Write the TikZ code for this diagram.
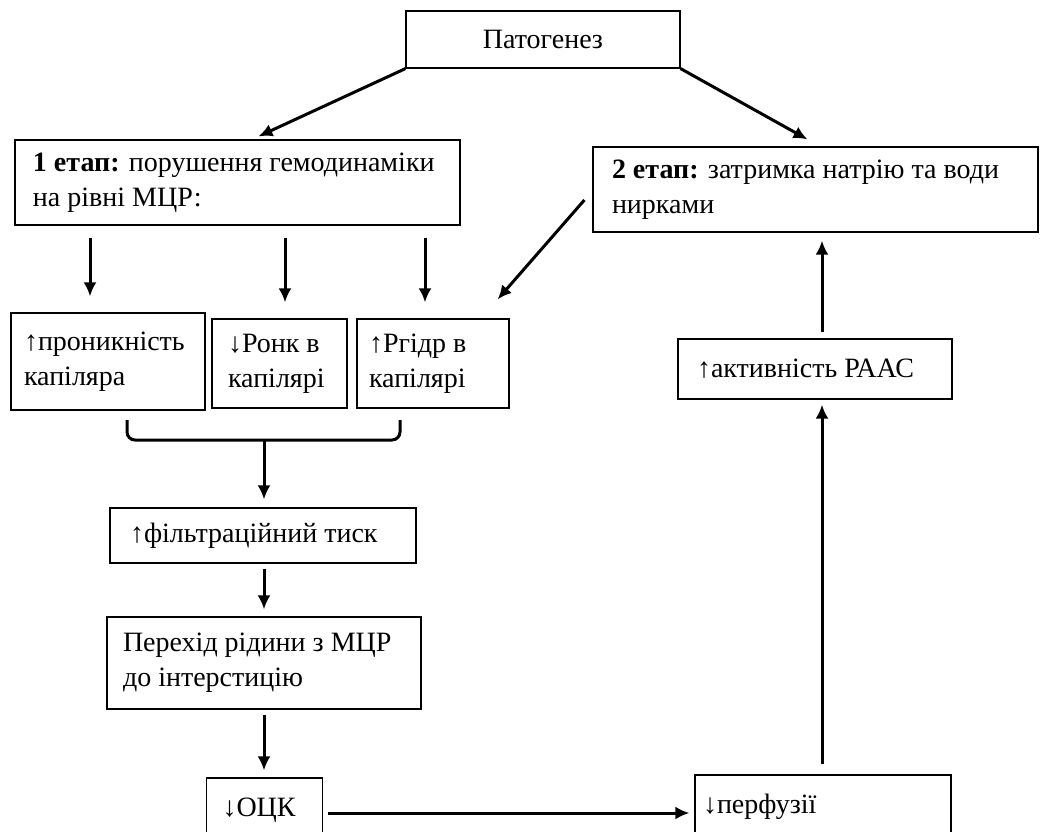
\documentclass[tikz,border=0pt]{standalone}
\usepackage{fontspec}
\setmainfont{Liberation Serif}
\usepackage{tikz}
\usetikzlibrary{arrows.meta,calc}
\definecolor{patInk}{HTML}{000000}
\tikzset{
  patBox/.style={
    draw=patInk,
    line width=0.6pt,
    align=flush left,
    font=\fontsize{14}{17.5}\selectfont,
    inner xsep=0pt,
    inner ysep=0pt,
    execute at begin node={\leftskip=8pt}
  },
  patTitle/.style={
    draw=patInk,
    line width=0.6pt,
    align=center,
    font=\fontsize{14}{17.5}\selectfont,
    inner sep=0pt
  },
  patArrow/.style={
    -{Latex[length=7pt,width=6.5pt]},
    line width=1.5pt,
    draw=patInk
  },
  patBrace/.style={
    line width=1.5pt,
    draw=patInk,
    rounded corners=4pt
  }
}

\begin{document}
\begin{tikzpicture}[x=0.5pt, y=-0.5pt]
  \clip (0,0) rectangle (1043,831);

  \node[patTitle, text width=137pt, minimum height=28.5pt] (patho) at (543,39.5) {Патогенез};
  \node[patBox, text width=222.5pt, minimum height=42.5pt, execute at begin node={\leftskip=9pt}] (stage1) at (237.5,182.5) {\textbf{1 етап:} порушення гемодинаміки\\на рівні МЦР:};
  \node[patBox, text width=222.5pt, minimum height=42.5pt, execute at begin node={\leftskip=9.5pt}] (stage2) at (815.5,189.5) {\textbf{2 етап:} затримка натрію та води\\нирками};

  \node[patBox, text width=97pt, minimum height=48.5pt, execute at begin node={\leftskip=6.5pt}] (perm) at (108,361.5) {↑проникність\\капіляра};
  \node[patBox, text width=67.5pt, minimum height=44.5pt] (onc) at (279.5,363.5) {↓Ронк в\\капілярі};
  \node[patBox, text width=76pt, minimum height=44.5pt, execute at begin node={\leftskip=6pt}] (hydr) at (433,363.5) {↑Ргідр в\\капілярі};
  \node[patBox, text width=137pt, minimum height=30pt, execute at begin node={\leftskip=9.5pt}] (raas) at (815,369) {↑активність РААС};

  \node[patBox, text width=153pt, minimum height=27.5pt, execute at begin node={\leftskip=10pt}] (filt) at (263,535.5) {↑фільтраційний тиск};
  \node[patBox, text width=157pt, minimum height=46pt] (fluid) at (264,663) {Перехід рідини з МЦР\\до інтерстицію};
  \node[patBox, text width=58pt, minimum height=32pt] (bcv) at (264.5,810) {↓ОЦК};
  \node[patBox, text width=128pt, minimum height=32pt, execute at begin node={\leftskip=4pt}] (perf) at (823,807) {↓перфузії};

  % brace under the three capillary boxes
  \coordinate (braceL) at (127,420);
  \coordinate (braceR) at (400,420);
  \coordinate (braceM) at (264,440);
  \draw[patBrace] (braceL) |- (braceM) -| (braceR);

  \draw[patArrow] (patho.south west) -- ([xshift=10.5pt,yshift=1.5pt]stage1.north);
  \draw[patArrow] (patho.south east) -- ([xshift=-4pt,yshift=3.5pt]stage2.north);

  \foreach \n/\dx in {perm/-9pt, onc/2.75pt, hydr/-4pt} {
    \draw[patArrow] ($(stage1.south -| \n.north)+(\dx,-6pt)$) -- ($(\n.north)+(\dx,8pt)$);
  }
  \draw[patArrow] ($(stage2.west)+(-4pt,-5.25pt)$) -- ($(hydr.north east)+(-6pt,9.5pt)$);

  \draw[patArrow, shorten >=4pt] (braceM) -- (braceM |- filt.north);
  \draw[patArrow, shorten <=2.5pt, shorten >=3.5pt] (braceM |- filt.south) -- (braceM |- fluid.north);
  \draw[patArrow, shorten <=2.5pt, shorten >=3.5pt] (braceM |- fluid.south) -- (braceM |- bcv.north);
  \draw[patArrow, shorten <=2.5pt, shorten >=2.5pt] ($(bcv.east)+(0,-1.5pt)$) -- ($(perf.west |- bcv.east)+(0,-1.5pt)$);
  \draw[patArrow, shorten <=5pt, shorten >=2.5pt] ($(raas.south |- perf.north)+(3.5pt,0)$) -- ($(raas.south)+(3.5pt,0)$);
  \draw[patArrow, shorten <=3pt, shorten >=4pt] ($(raas.north)+(3.5pt,0)$) -- ($(raas.north |- stage2.south)+(3.5pt,0)$);
\end{tikzpicture}
\end{document}
